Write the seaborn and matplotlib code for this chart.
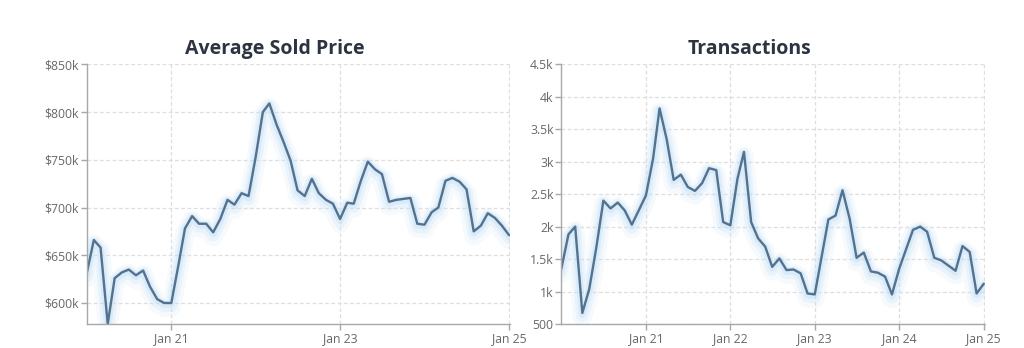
import matplotlib
matplotlib.use("Agg")
import matplotlib.pyplot as plt
import matplotlib.patheffects as pe
from matplotlib.ticker import FixedLocator
import seaborn as sns
import pandas as pd

# Monthly series, Jan 2020 - Jan 2025
months = pd.date_range("2020-01-01", periods=61, freq="MS")

avg_sold_price = [
    631, 666, 658, 578, 626, 632, 635, 629, 634, 617,
    604, 600, 600, 640, 678, 691, 683, 683, 674, 688,
    708, 703, 715, 712, 753, 800, 809, 787, 769, 749,
    718, 712, 730, 715, 708, 704, 688, 705, 704, 728,
    748, 740, 735, 706, 708, 709, 710, 683, 682, 695,
    700, 728, 731, 727, 719, 675, 681, 694, 689, 681,
    671,
]
avg_sold_price = [v * 1000 for v in avg_sold_price]

transactions = [
    1350, 1880, 2000, 670, 1040, 1690, 2400, 2280, 2370, 2250,
    2030, 2250, 2480, 3050, 3820, 3340, 2720, 2800, 2610, 2550,
    2670, 2900, 2870, 2070, 2020, 2740, 3150, 2070, 1820, 1690,
    1380, 1510, 1330, 1340, 1280, 970, 955, 1560, 2110, 2170,
    2560, 2120, 1520, 1600, 1310, 1290, 1230, 955, 1350, 1660,
    1950, 2000, 1920, 1520, 1480, 1400, 1320, 1700, 1610, 970,
    1120,
]

price_ticks = [600000, 650000, 700000, 750000, 800000, 850000]
price_labels = ["$600k", "$650k", "$700k", "$750k", "$800k", "$850k"]
tx_ticks = [500, 1000, 1500, 2000, 2500, 3000, 3500, 4000, 4500]
tx_labels = ["500", "1k", "1.5k", "2k", "2.5k", "3k", "3.5k", "4k", "4.5k"]

titles = ["Average Sold Price", "Transactions"]

df = pd.DataFrame({"month": months, "price": avg_sold_price, "tx": transactions})

sns.set_theme(style="white")
plt.rcParams["font.family"] = ["Open Sans", "DejaVu Sans"]

LINE = "#52728f"
GRID = "#dedede"
AXIS = "#a8a8a8"
TICKTXT = "#686868"

fig = plt.figure(figsize=(10.24, 3.48), dpi=100)
ax1 = fig.add_axes([86.7 / 1024, 1 - 324 / 348, 423.3 / 1024, 259.7 / 348])
ax2 = fig.add_axes([561.3 / 1024, 1 - 324 / 348, 423.4 / 1024, 259.7 / 348])

# soft pale-blue halo under the line
glow = [
    pe.Stroke(linewidth=14, foreground="#cfe6f8", alpha=0.18, offset=(0, -3)),
    pe.Stroke(linewidth=9, foreground="#c6e1f6", alpha=0.25, offset=(0, -2)),
    pe.Stroke(linewidth=5, foreground="#bcdaf3", alpha=0.35, offset=(0, -1)),
    pe.Normal(),
]

sns.lineplot(data=df, x="month", y="price", ax=ax1, color=LINE, linewidth=1.7)
sns.lineplot(data=df, x="month", y="tx", ax=ax2, color=LINE, linewidth=1.7)

setups = [
    (ax1, (578000, 850000), price_ticks, price_labels,
     ["2021-01-01", "2023-01-01", "2025-01-01"]),
    (ax2, (500, 4500), tx_ticks, tx_labels,
     ["2021-01-01", "2022-01-01", "2023-01-01", "2024-01-01", "2025-01-01"]),
]

for ax, ylim, yt, yl, xt in setups:
    for ln in ax.get_lines():
        ln.set_path_effects(glow)
        ln.set_solid_capstyle("round")
        ln.set_solid_joinstyle("round")
    ax.set_xlim(pd.Timestamp("2020-01-01"), pd.Timestamp("2025-01-05"))
    ax.set_ylim(*ylim)
    ax.yaxis.set_major_locator(FixedLocator(yt))
    ax.set_yticklabels(yl)
    xdates = [pd.Timestamp(d) for d in xt]
    ax.set_xticks(xdates)
    ax.set_xticklabels([d.strftime("Jan %y") for d in xdates])
    ax.set_xlabel("")
    ax.set_ylabel("")
    ax.grid(True, color=GRID, linestyle=(0, (3, 2)), linewidth=0.9)
    ax.set_axisbelow(True)
    for side in ("top", "right"):
        ax.spines[side].set_visible(False)
    for side in ("left", "bottom"):
        ax.spines[side].set_color(AXIS)
        ax.spines[side].set_linestyle((0, (2, 1)))
        ax.spines[side].set_linewidth(1.0)
    ax.tick_params(axis="both", which="major", direction="out", length=4,
                   width=1, color=AXIS, labelcolor=TICKTXT, labelsize=8.8,
                   pad=1.5, left=True, bottom=True)

for t, xc in zip(titles, [274.5, 749]):
    fig.text(xc / 1024, 1 - 54 / 348, t, ha="center", va="baseline",
             fontsize=14, fontweight="bold", color="#2b3440")

fig.savefig("out.png", dpi=100, facecolor="white")
